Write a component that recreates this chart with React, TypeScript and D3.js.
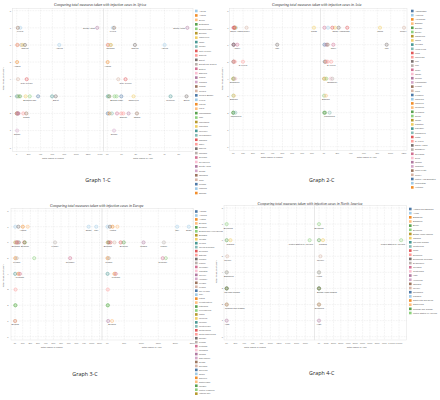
import React from "react";
import * as d3 from "d3";

const PALETTE = ["#4E79A7","#A0CBE8","#F28E2B","#FFBE7D","#59A14F","#8CD17D","#B6992D","#F1CE63","#499894","#86BCB6","#E15759","#FF9D9A","#79706E","#BAB0AC","#D37295","#FABFD2","#B07AA1","#D4A6C8","#9D7660","#D7B5A6"];

const measureTicks = [0, 1, 2, 3, 4, 5, 6, 7, 8];

// ---------- Africa ----------
const africaCountries = ["Algeria","Angola","Benin","Botswana","Burkina Faso","Burundi","Cameroon","Chad","Congo","Cote d'Ivoire","Djibouti","Egypt","Equatorial Guinea","Eritrea","Ethiopia","Gabon","Gambia","Ghana","Guinea","Guinea Bissau","Kenya","Liberia","Libya","Madagascar","Mali","Mauritania","Mauritius","Morocco","Mozambique","Namibia","Niger","Nigeria","Rwanda","Senegal","Seychelles","South Africa","Sudan","Tanzania","Togo","Tunisia","Uganda","Zambia"];
// [country, measures, cases March, cases April]
const africaPoints: [string, number, number, number][] = [
  ["Kenya",7,59,396],["Tanzania",7,19,480],["South Africa",7,1353,5600],
  ["Eritrea",6,12,39],["Libya",6,10,61],["Rwanda",6,75,225],["Mauritius",6,100,256],["Nigeria",6,139,1932],["Algeria",6,716,4006],
  ["Angola",5,7,27],
  ["Guinea",4,22,770],["Cote d'Ivoire",4,168,1275],
  ["Chad",3,5,40],["Ethiopia",3,26,157],["Mali",3,28,506],["Madagascar",3,55,128],["Cameroon",3,150,1834],["Burkina Faso",3,220,650],["Tunisia",3,360,980],["Morocco",3,595,4423],["Egypt",3,656,5540],
  ["Guinea Bissau",2,2,40],["Liberia",2,3,157],["Congo",2,19,320],["Senegal",2,30,680],["Niger",2,10,970],["Djibouti",2,110,1120],["Gabon",2,20,1490],["Ghana",2,161,2074],
  ["Sudan",1,7,470],
];
const africaLabelsMarch: [string, string][] = [["Kenya","b"],["South Africa","l"],["Nigeria","b"],["Algeria","b"],["Angola","b"],["Cote d'Ivoire","b"],["Burkina Faso","b"],["Egypt","b"],["Ghana","b"],["Sudan","b"]];
const africaLabelsApril: [string, string][] = [["Kenya","b"],["South Africa","l"],["Rwanda","b"],["Nigeria","b"],["Algeria","b"],["Angola","b"],["Cote d'Ivoire","b"],["Burkina Faso","b"],["Cameroon","b"],["Morocco","b"],["Egypt","b"],["Djibouti","b"],["Ghana","b"],["Sudan","b"]];
const africaTicksMarch = [0,200,400,600,800,1000,1200,1400];
const africaTicksApril = [0,1000,2000,3000,4000,5000];

// ---------- Asia ----------
const asiaCountries = ["Afghanistan","Armenia","Azerbaijan","Bahrain","Bhutan","Brunei","Cambodia","China","Georgia","Hong Kong","India","Indonesia","Iran","Iraq","Israel","Japan","Jordan","Kazakhstan","Kuwait","Laos","Lebanon","Malaysia","Maldives","Mongolia","Myanmar","Nepal","Oman","Pakistan","Palestine","Philippines","Qatar","S. Korea","Saudi Arabia","Singapore","Sri Lanka","Syria","Taiwan","Thailand","Timor-Leste","Turkey","United Arab Emirates","Uzbekistan","Vietnam"];
const asiaPoints: [string, number, number, number][] = [
  ["Sri Lanka",7,122,665],["Saudi Arabia",7,1450,22000],["India",7,1400,34800],["Malaysia",7,2700,6000],["Pakistan",7,1900,16500],["Qatar",7,781,12500],["Turkey",7,13500,120000],["China",7,82000,84000],
  ["Lebanon",6,470,725],["Jordan",6,274,3500],["Kuwait",6,266,5500],["Israel",6,4000,14000],["Iran",6,44600,94000],
  ["Afghanistan",5,174,1200],["Azerbaijan",5,298,2200],["Kazakhstan",5,348,3400],["Indonesia",5,1528,5500],["S. Korea",5,9786,10765],
  ["Cambodia",4,109,122],["Mongolia",4,12,1800],["Nepal",4,5,3600],["Japan",4,1953,10000],["Singapore",4,926,12500],
  ["Brunei",3,126,138],["Bahrain",3,567,2800],
  ["Bhutan",2,4,300],["Myanmar",2,15,1500],["Philippines",2,2084,8488],
];
const asiaLabelsMarch: [string, string][] = [["Saudi Arabia","b"],["Turkey","b"],["China","b"],["Israel","b"],["Iran","b"],["S. Korea","b"],["Singapore","b"],["Bahrain","b"],["Philippines","b"]];
const asiaLabelsApril: [string, string][] = [["Saudi Arabia","b"],["India","b"],["China","b"],["Turkey","b"],["Israel","b"],["Iran","b"],["S. Korea","b"],["Singapore","b"],["Bahrain","b"],["Philippines","b"]];
const asiaTicksMarch = [0,10000,20000,30000,40000,50000,60000,70000,80000];
const asiaTicksApril = [0,20000,40000,60000,80000,100000,120000];

// ---------- Europe ----------
const europeCountries = ["Albania","Andorra","Austria","Belarus","Belgium","Bosnia and Herzegovina","Bulgaria","Croatia","Cyprus","Czech Republic","Denmark","Estonia","Finland","France","Germany","Gibraltar","Greece","Hungary","Iceland","Ireland","Isle of Man","Italy","Latvia","Liechtenstein","Lithuania","Luxembourg","Malta","Moldova","Monaco","Montenegro","Netherlands","North Macedonia","Norway","Poland","Portugal","Romania","Russia","San Marino","Serbia","Slovakia","Slovenia","Spain","Sweden","Switzerland","Ukraine","United Kingdom","Vatican City"];
const europePoints: [string, number, number, number][] = [
  ["Andorra",7,370,745],["Norway",7,4400,7800],["Austria",7,10200,15400],["Switzerland",7,16600,29700],["Spain",7,95900,239600],["Italy",7,105800,205500],
  ["Bulgaria",6,399,1500],["Finland",6,5000,4400],["Russia",6,2337,106500],["Denmark",6,2800,9300],["Ireland",6,3200,21000],["Netherlands",6,12000,39300],["Belgium",6,12800,48500],["France",6,52100,166400],
  ["Latvia",5,376,870],["Poland",5,2300,4500],["United Kingdom",5,25000,172000],["Germany",5,71800,163000],
  ["Cyprus",4,214,870],["Sweden",4,4400,21000],["Portugal",4,6400,25000],
  ["Estonia",3,715,1660],
  ["Lithuania",2,537,1400],["Bosnia and Herzegovina",2,420,1800],
  ["Greece",1,130,2600],["Belarus",1,152,14000],
];
const europeLabelsMarch: [string, string][] = [["Austria","b"],["Spain","b"],["Italy","b"],["Bulgaria","b"],["Belgium","b"],["France","b"],["Poland","b"],["Germany","b"],["Portugal","b"],["Belarus","b"]];
const europeLabelsApril: [string, string][] = [["Austria","b"],["Italy","b"],["Spain","b"],["Bulgaria","b"],["Belgium","b"],["Russia","b"],["France","b"],["Poland","b"],["Germany","b"],["Portugal","b"],["Belarus","b"]];
const europeTicksMarch = [0,10000,20000,30000,40000,50000,60000,70000,80000,90000,100000,110000];
const europeTicksApril = [0,50000,100000,150000,200000,250000];

// ---------- North America ----------
const naCountries = ["Antigua and Barbuda","Aruba","Bahamas","Barbados","Belize","Bermuda","British Virgin Islands","Canada","Cayman Islands","Costa Rica","Cuba","Dominica","Dominican Republic","El Salvador","Grenada","Guatemala","Haiti","Honduras","Jamaica","Mexico","Nicaragua","Panama","Saint Kitts and Nevis","Saint Lucia","Trinidad and Tobago","United States of America"];
const naPoints: [string, number, number, number][] = [
  ["Bermuda",7,32,109],
  ["Belize",6,3,18],["Canada",6,8527,54457],["United States of America",6,190000,1130000],
  ["Mexico",5,1215,19224],
  ["El Salvador",4,32,395],["Barbados",4,33,81],["Aruba",4,55,100],
  ["Antigua and Barbuda",3,7,24],["Cayman Islands",3,8,70],["British Virgin Islands",3,3,6],
  ["Trinidad and Tobago",2,85,116],["Dominica",2,11,16],
  ["Haiti",1,15,85],
];
const naLabelsMarch: [string, string][] = [["Bermuda","b"],["Canada","b"],["United States of America","b"],["Mexico","b"],["Barbados","b"],["Cayman Islands","b"],["Trinidad and Tobago","b"],["Haiti","b"]];
const naLabelsApril: [string, string][] = [["Bermuda","b"],["Canada","b"],["United States of America","b"],["Mexico","b"],["Aruba","b"],["British Virgin Islands","b"],["Dominica","b"],["Haiti","b"]];
const naTicksMarch = [0,20000,40000,60000,80000,100000,120000,140000,160000,180000];
const naTicksApril = [0,100000,200000,300000,400000,500000,600000,700000,800000,900000,1000000,1100000];

const SANS = "'Liberation Sans', Arial, sans-serif";
const SERIF = "'Liberation Serif', 'DejaVu Serif', serif";
const fmtK = (v: number) => d3.format(",")(v / 1000) + "K";
const fmtN = (v: number) => String(v);

type Pane = { x0: number; x1: number; px0: number; pxEnd: number; ticks: number[]; fmt: (v: number) => string; title: string; titleX: number; labels: [string, string][]; vi: 2 | 3 };
type G = {
  title: string; titleX: number; titleY: number;
  caption: string; captionX: number; captionY: number;
  yTop: number; yBottom: number; plotTop: number; plotBottom: number;
  yTickX: number; yTitleX?: number; yTitleY?: number;
  tickLabelY: number; axisTitleY: number;
  panes: Pane[];
  countries: string[]; points: [string, number, number, number][]; colorOffset: number;
  legendX: number; legendY: number; legendStep: number;
};

const graphs: G[] = [
  {
    title: "Comparing total measures taken with infection cases in Africa", titleX: 100, titleY: 6.3,
    caption: "Graph 1-C", captionX: 98, captionY: 182,
    yTop: 10.7, yBottom: 147.7, plotTop: 8.5, plotBottom: 151.5,
    yTickX: 11, yTitleX: 4, yTitleY: 79, tickLabelY: 154.6, axisTitleY: 159.2,
    panes: [
      { x0: 12.5, x1: 103.5, px0: 16.7, pxEnd: 100, ticks: africaTicksMarch, fmt: fmtN, title: "Total cases in March", titleX: 53, labels: africaLabelsMarch, vi: 2 },
      { x0: 103.5, x1: 193, px0: 107.3, pxEnd: 178.8, ticks: africaTicksApril, fmt: fmtK, title: "Total cases in April", titleX: 143, labels: africaLabelsApril, vi: 3 },
    ],
    countries: africaCountries, points: africaPoints, colorOffset: 1,
    legendX: 195, legendY: 11, legendStep: 4.44,
  },
  {
    title: "Comparing total measures taken with infection cases in Asia", titleX: 316.7, titleY: 6.3,
    caption: "Graph 2-C", captionX: 321.7, captionY: 182,
    yTop: 10.7, yBottom: 146.7, plotTop: 8.5, plotBottom: 150.5,
    yTickX: 228.5, yTitleX: 222.5, yTitleY: 79, tickLabelY: 153.6, axisTitleY: 158.2,
    panes: [
      { x0: 229.5, x1: 320.5, px0: 233.3, pxEnd: 312, ticks: asiaTicksMarch, fmt: fmtK, title: "Total cases in March", titleX: 271.7, labels: asiaLabelsMarch, vi: 2 },
      { x0: 320.5, x1: 407, px0: 324, pxEnd: 404, ticks: asiaTicksApril, fmt: fmtK, title: "Total cases in April", titleX: 366.7, labels: asiaLabelsApril, vi: 3 },
    ],
    countries: asiaCountries, points: asiaPoints, colorOffset: 0,
    legendX: 411, legendY: 11, legendStep: 4.2,
  },
  {
    title: "Comparing total measures taken with infection cases in Europe", titleX: 96.7, titleY: 207,
    caption: "Graph 3-C", captionX: 85, captionY: 375.5,
    yTop: 211, yBottom: 336.7, plotTop: 208.5, plotBottom: 340,
    yTickX: 8.5, yTitleX: 4, yTitleY: 276, tickLabelY: 343.8, axisTitleY: 348,
    panes: [
      { x0: 11, x1: 102, px0: 15, pxEnd: 99.5, ticks: europeTicksMarch, fmt: fmtK, title: "Total cases in March", titleX: 51.7, labels: europeLabelsMarch, vi: 2 },
      { x0: 102, x1: 193.5, px0: 107.3, pxEnd: 192.3, ticks: europeTicksApril, fmt: fmtK, title: "Total cases in April", titleX: 151.7, labels: europeLabelsApril, vi: 3 },
    ],
    countries: europeCountries, points: europePoints, colorOffset: 0,
    legendX: 195, legendY: 211.5, legendStep: 3.96,
  },
  {
    title: "Comparing total measures taken with infection cases in North America", titleX: 310, titleY: 205,
    caption: "Graph 4-C", captionX: 321.7, captionY: 375,
    yTop: 208, yBottom: 336.7, plotTop: 205.5, plotBottom: 340,
    yTickX: 223, yTitleX: 216.7, yTitleY: 272, tickLabelY: 343.8, axisTitleY: 348,
    panes: [
      { x0: 224, x1: 314.5, px0: 226.7, pxEnd: 305.3, ticks: naTicksMarch, fmt: fmtK, title: "Total cases in March", titleX: 255, labels: naLabelsMarch, vi: 2 },
      { x0: 314.5, x1: 406.5, px0: 319, pxEnd: 399, ticks: naTicksApril, fmt: fmtK, title: "Total cases in April", titleX: 356.7, labels: naLabelsApril, vi: 3 },
    ],
    countries: naCountries, points: naPoints, colorOffset: 0,
    legendX: 409, legendY: 209, legendStep: 4.16,
  },
];

const LBL = 2.2;

function Graph({ g }: { g: G }) {
  const y = d3.scaleLinear().domain([0, 8]).range([g.yBottom, g.yTop]);
  const color = d3.scaleOrdinal<string, string>()
    .domain(g.countries)
    .range(g.countries.map((_, i) => PALETTE[(i + g.colorOffset) % PALETTE.length]));
  return (
    <g>
      <text x={g.titleX} y={g.titleY} textAnchor="middle" fontFamily={SERIF} fontStyle="italic" fontSize={3.7} fill="#333">{g.title}</text>
      {g.panes.map((p, pi) => {
        const last = p.ticks[p.ticks.length - 1];
        const x = d3.scaleLinear().domain([0, last]).range([p.px0, p.pxEnd]);
        return (
          <g key={pi}>
            <rect x={p.x0} y={g.plotTop} width={p.x1 - p.x0} height={g.plotBottom - g.plotTop} fill="none" stroke="#e2e2e2" strokeWidth={0.5} />
            {measureTicks.map((t) => (
              <line key={"h" + t} x1={p.x0} x2={p.x1} y1={y(t)} y2={y(t)} stroke="#d4d4d4" strokeWidth={0.4} strokeDasharray="0.7,0.9" />
            ))}
            {p.ticks.map((t) => (
              <line key={"v" + t} x1={x(t)} x2={x(t)} y1={g.plotTop} y2={g.plotBottom} stroke="#d4d4d4" strokeWidth={0.4} strokeDasharray="0.7,0.9" />
            ))}
            {p.ticks.map((t) => (
              <text key={"t" + t} x={x(t)} y={g.tickLabelY} textAnchor="middle" fontFamily={SANS} fontSize={2.2} fill="#666">{p.fmt(t)}</text>
            ))}
            <text x={p.titleX} y={g.axisTitleY} textAnchor="middle" fontFamily={SANS} fontSize={2.4} fill="#555">{p.title}</text>
            {g.points.map((pt, i) => (
              <circle key={i} cx={x(pt[p.vi])} cy={y(pt[1])} r={1.6} fill={color(pt[0])} fillOpacity={0.2} stroke={color(pt[0])} strokeWidth={0.45} />
            ))}
            {p.labels.map(([name, pos]) => {
              const pt = g.points.find((q) => q[0] === name);
              if (!pt) return null;
              const px = x(pt[p.vi]);
              const py = y(pt[1]);
              if (pos === "l") {
                return <text key={name} x={px - 2.4} y={py + 0.8} textAnchor="end" fontFamily={SANS} fontSize={LBL} fill="#444">{name}</text>;
              }
              const w = name.length * LBL * 0.5;
              const cx = Math.min(Math.max(px, p.x0 + w / 2 + 0.4), p.x1 - w / 2 - 0.4);
              return <text key={name} x={cx} y={py + 4.5} textAnchor="middle" fontFamily={SANS} fontSize={LBL} fill="#444">{name}</text>;
            })}
          </g>
        );
      })}
      {measureTicks.map((t) => (
        <text key={"y" + t} x={g.yTickX} y={y(t) + 0.8} textAnchor="end" fontFamily={SANS} fontSize={2.2} fill="#666">{t}</text>
      ))}
      {g.yTitleX !== undefined && (
        <text transform={`translate(${g.yTitleX},${g.yTitleY}) rotate(-90)`} textAnchor="middle" fontFamily={SANS} fontSize={2.4} fill="#555">Total measures taken</text>
      )}
      {g.countries.map((c, i) => (
        <g key={c}>
          <rect x={g.legendX} y={g.legendY + i * g.legendStep - 1.3} width={2.6} height={2.6} fill={color(c)} />
          <text x={g.legendX + 4} y={g.legendY + i * g.legendStep + 0.8} fontFamily={SANS} fontSize={2.2} fill="#555">{c}</text>
        </g>
      ))}
      <text x={g.captionX} y={g.captionY} textAnchor="middle" fontFamily="'Open Sans', 'Noto Sans', sans-serif" fontSize={5.4} fill="#222">{g.caption}</text>
    </g>
  );
}

export default function App() {
  return (
    <svg width={440} height={400} style={{ position: "absolute", left: 0, top: 0, background: "#fff" }}>
      <rect x={0} y={0} width={440} height={400} fill="#fff" />
      {graphs.map((g, i) => <Graph key={i} g={g} />)}
    </svg>
  );
}
